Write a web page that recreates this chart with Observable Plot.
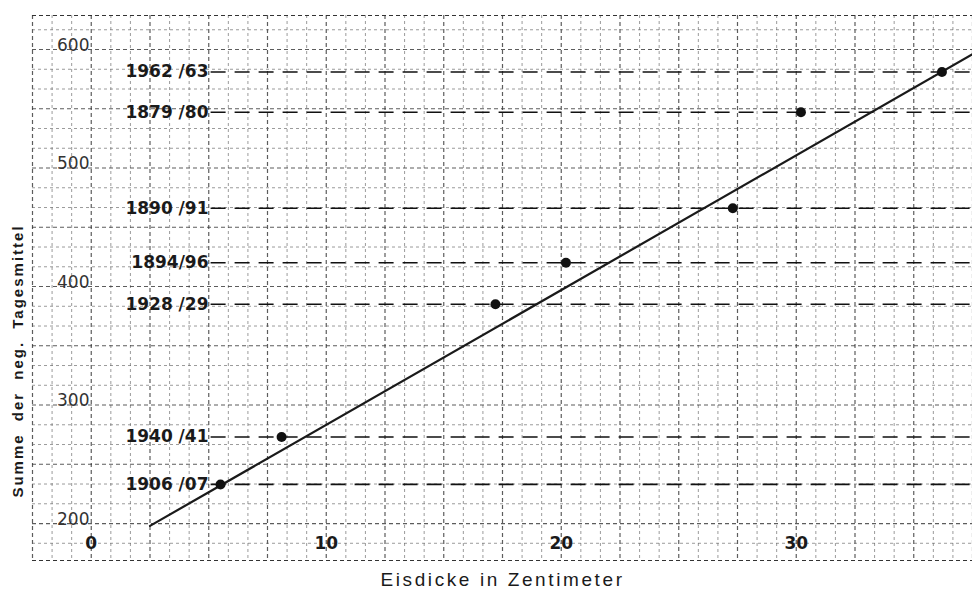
<!DOCTYPE html>
<html>
<head>
<meta charset="utf-8">
<script src="https://cdn.jsdelivr.net/npm/d3@7"></script>
<script src="https://cdn.jsdelivr.net/npm/@observablehq/plot@0.6"></script>
<style>
  html, body { margin: 0; padding: 0; background: #fff; }
  #chart svg { display: block; }
</style>
</head>
<body>
<div id="chart"></div>
<script>
// Winter labels, ice thickness (cm) and sum of negative daily means
const winters  = ["1962 /63", "1879 /80", "1890 /91", "1894/96", "1928 /29", "1940 /41", "1906 /07"];
const eisdicke = [36.2, 30.2, 27.3, 20.2, 17.2, 8.1, 5.5];
const summe    = [581, 547, 466, 420, 385, 273, 233];

// regression line end points
const fitX = [2.5, 37.5];
const fitY = [198, 596];

// tick labels
const xTicks = [0, 10, 20, 30];
const yTicks = [200, 300, 400, 500, 600];

const xLabel = "Eisdicke in Zentimeter";
const yLabel = "Summe der neg. Tagesmittel";

const points = winters.map((w, i) => ({w, x: eisdicke[i], y: summe[i]}));
const fit = fitX.map((x, i) => ({x, y: fitY[i]}));

const xDomain = [-2.5, 37.5];
const yDomain = [168.8, 628.7];

// graph paper grid (square cells: 12 per 10 cm, 6 per 100 units)
const xCell = 10 / 12, yCell = 100 / 6;
const vGrid = d3.range(0, 49).map(k => xDomain[0] + k * xCell);
const hGrid = d3.range(-1, 26).map(k => 600 - k * yCell).filter(v => v > yDomain[0] && v < yDomain[1]);
const isMajorX = v => Math.abs(((v + 2.5) / 2.5) - Math.round((v + 2.5) / 2.5)) < 1e-6;
const isMajorY = v => Math.abs((v / 50) - Math.round(v / 50)) < 1e-6;

const chart = Plot.plot({
  width: 972,
  height: 593,
  marginLeft: 32,
  marginRight: 0,
  marginTop: 15,
  marginBottom: 33,
  style: {background: "#fff", fontFamily: "DejaVu Sans, sans-serif"},
  x: {domain: xDomain, axis: null},
  y: {domain: yDomain, axis: null},
  marks: [
    // grid
    Plot.ruleX(vGrid.filter(v => !isMajorX(v)), {stroke: "#666", strokeWidth: 1, strokeDasharray: "3,3", strokeOpacity: 0.65}),
    Plot.ruleX(vGrid.filter(isMajorX), {stroke: "#333", strokeWidth: 1.2, strokeDasharray: "4,3", strokeOpacity: 0.8}),
    Plot.ruleY(hGrid.filter(v => !isMajorY(v)), {stroke: "#666", strokeWidth: 1, strokeDasharray: "3,3", strokeOpacity: 0.65}),
    Plot.ruleY(hGrid.filter(isMajorY), {stroke: "#333", strokeWidth: 1.2, strokeDasharray: "4,3", strokeOpacity: 0.8}),
    Plot.ruleY([yDomain[1], yDomain[0]], {stroke: "#333", strokeWidth: 1.2, strokeDasharray: "4,3"}),
    // dashed reference lines per winter
    Plot.ruleY(points, {y: "y", x1: 5.1, x2: xDomain[1], stroke: "#111", strokeWidth: 1.6, strokeDasharray: "15,9"}),
    // regression line
    Plot.line(fit, {x: "x", y: "y", stroke: "#1a1a1a", strokeWidth: 2.2}),
    // data points
    Plot.dot(points, {x: "x", y: "y", r: 5, fill: "#111", stroke: "none"}),
    // winter labels
    Plot.text(points, {y: "y", text: "w", frameAnchor: "left", dx: 176, textAnchor: "end",
      fontSize: 17, fontWeight: "bold", fill: "#1a1a1a", fontFamily: "DejaVu Sans, sans-serif"}),
    // y tick labels
    Plot.text(yTicks, {y: d => d, text: d => String(d), frameAnchor: "left", dx: 57, textAnchor: "end",
      dy: -4, fontSize: 17, fill: "#333", fontFamily: "DejaVu Sans, sans-serif"}),
    // x tick labels
    Plot.text(xTicks, {x: d => d, text: d => String(d), frameAnchor: "bottom", dy: -12,
      fontSize: 17, fontWeight: "bold", fill: "#1a1a1a", fontFamily: "DejaVu Sans, sans-serif"}),
    // axis titles
    Plot.text([xLabel], {text: d => d, frameAnchor: "bottom", dy: 25, fontSize: 19, textAnchor: "middle",
      fill: "#1a1a1a", fontFamily: "Liberation Sans, Arial, sans-serif"}),
    Plot.text([yLabel], {text: d => d, frameAnchor: "left", textAnchor: "middle", dx: -14, dy: 73, rotate: -90, fontSize: 15,
      fontWeight: "bold", fill: "#1a1a1a", fontFamily: "Liberation Sans, Arial, sans-serif"})
  ]
});

// letter / word spacing for the axis titles
chart.querySelectorAll("text").forEach(t => {
  if (t.textContent === xLabel) { t.style.letterSpacing = "2.6px"; }
  if (t.textContent === yLabel) { t.style.letterSpacing = "2px"; t.style.wordSpacing = "6px"; }
});

document.getElementById("chart").appendChild(chart);
</script>
</body>
</html>
